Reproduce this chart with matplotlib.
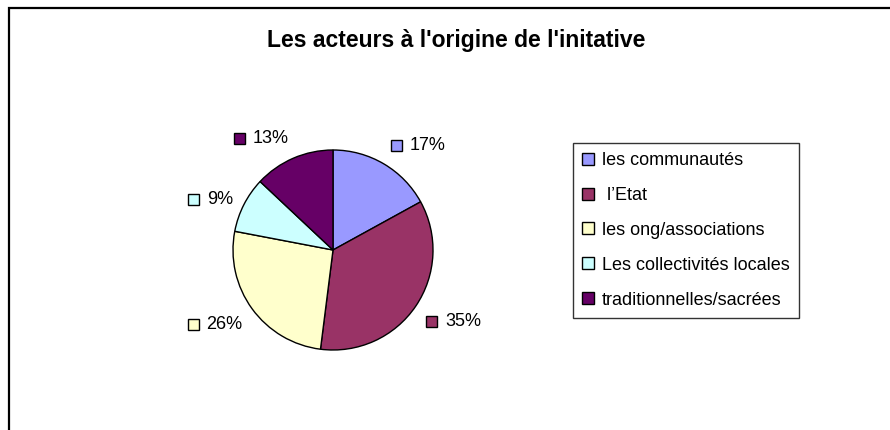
import numpy as np
import matplotlib
matplotlib.use("Agg")
import matplotlib.pyplot as plt
from matplotlib.patches import Rectangle, Patch
from matplotlib.offsetbox import AnnotationBbox, DrawingArea, TextArea, HPacker

plt.rcParams['font.family'] = ['Liberation Sans', 'DejaVu Sans']

# data
acteurs = ['les communautés', ' l\u2019Etat', 'les ong/associations',
           'Les collectivités locales', 'traditionnelles/sacrées']
parts = [17, 35, 26, 9, 13]
couleurs = ['#9999FF', '#993366', '#FFFFCC', '#CCFFFF', '#660066']
titre = "Les acteurs à l'origine de l'initative"

W, H = 890, 430
fig = plt.figure(figsize=(W / 100, H / 100), dpi=100)

# chart frame (cut off at right and bottom, like the screenshot)
fig.add_artist(Rectangle((9 / W, -0.2), 1.5, 1 - 8 / H + 0.2, transform=fig.transFigure,
                         fill=False, edgecolor='black', linewidth=1.6, clip_on=False))

fig.text(456 / W, 1 - 40 / H, titre, ha='center', va='center',
         fontsize=16.5, fontweight='bold')

# pie, centre (333,250) px, radius 100 px
cx, cy, r = 333, 250, 100
ax = fig.add_axes([(cx - r) / W, (H - cy - r) / H, 2 * r / W, 2 * r / H])
wedges, _ = ax.pie(parts, colors=couleurs, startangle=90, counterclock=False,
                   radius=1, wedgeprops=dict(edgecolor='black', linewidth=1))
ax.set_xlim(-1, 1)
ax.set_ylim(-1, 1)
ax.set_aspect('equal')
ax.axis('off')

# labels with coloured key square, outside each wedge
for w, p, c in zip(wedges, parts, couleurs):
    ang = np.deg2rad((w.theta1 + w.theta2) / 2)
    x, y = 1.12 * np.cos(ang), 1.12 * np.sin(ang)
    da = DrawingArea(9, 9, 0, 0)
    da.add_artist(Rectangle((0.5, 0.5), 8, 8, facecolor=c, edgecolor='black', linewidth=1))
    ta = TextArea(f'{p}%', textprops=dict(fontsize=13))
    box = HPacker(children=[da, ta], align='center', pad=0, sep=5)
    align = (0 if x > 0 else 1, 0 if y > 0 else 1)
    if abs(y) < 0.6:
        align = (align[0], 0.5 if y > 0 else align[1])
    ab = AnnotationBbox(box, (x, y), xycoords='data', box_alignment=align,
                        frameon=False, pad=0, annotation_clip=False)
    ax.add_artist(ab)

# legend
handles = [Patch(facecolor=c, edgecolor='black', linewidth=1) for c in couleurs]
leg = fig.legend(handles, acteurs, loc='upper left',
                 bbox_to_anchor=(573 / W, 1 - 143 / H), bbox_transform=fig.transFigure,
                 fontsize=13, frameon=True, fancybox=False, borderaxespad=0,
                 handlelength=0.65, handleheight=0.65, handletextpad=0.45,
                 labelspacing=0.99, borderpad=0.5)
leg.get_frame().set_edgecolor('black')
leg.get_frame().set_linewidth(1)

fig.savefig('out.png', dpi=100)
